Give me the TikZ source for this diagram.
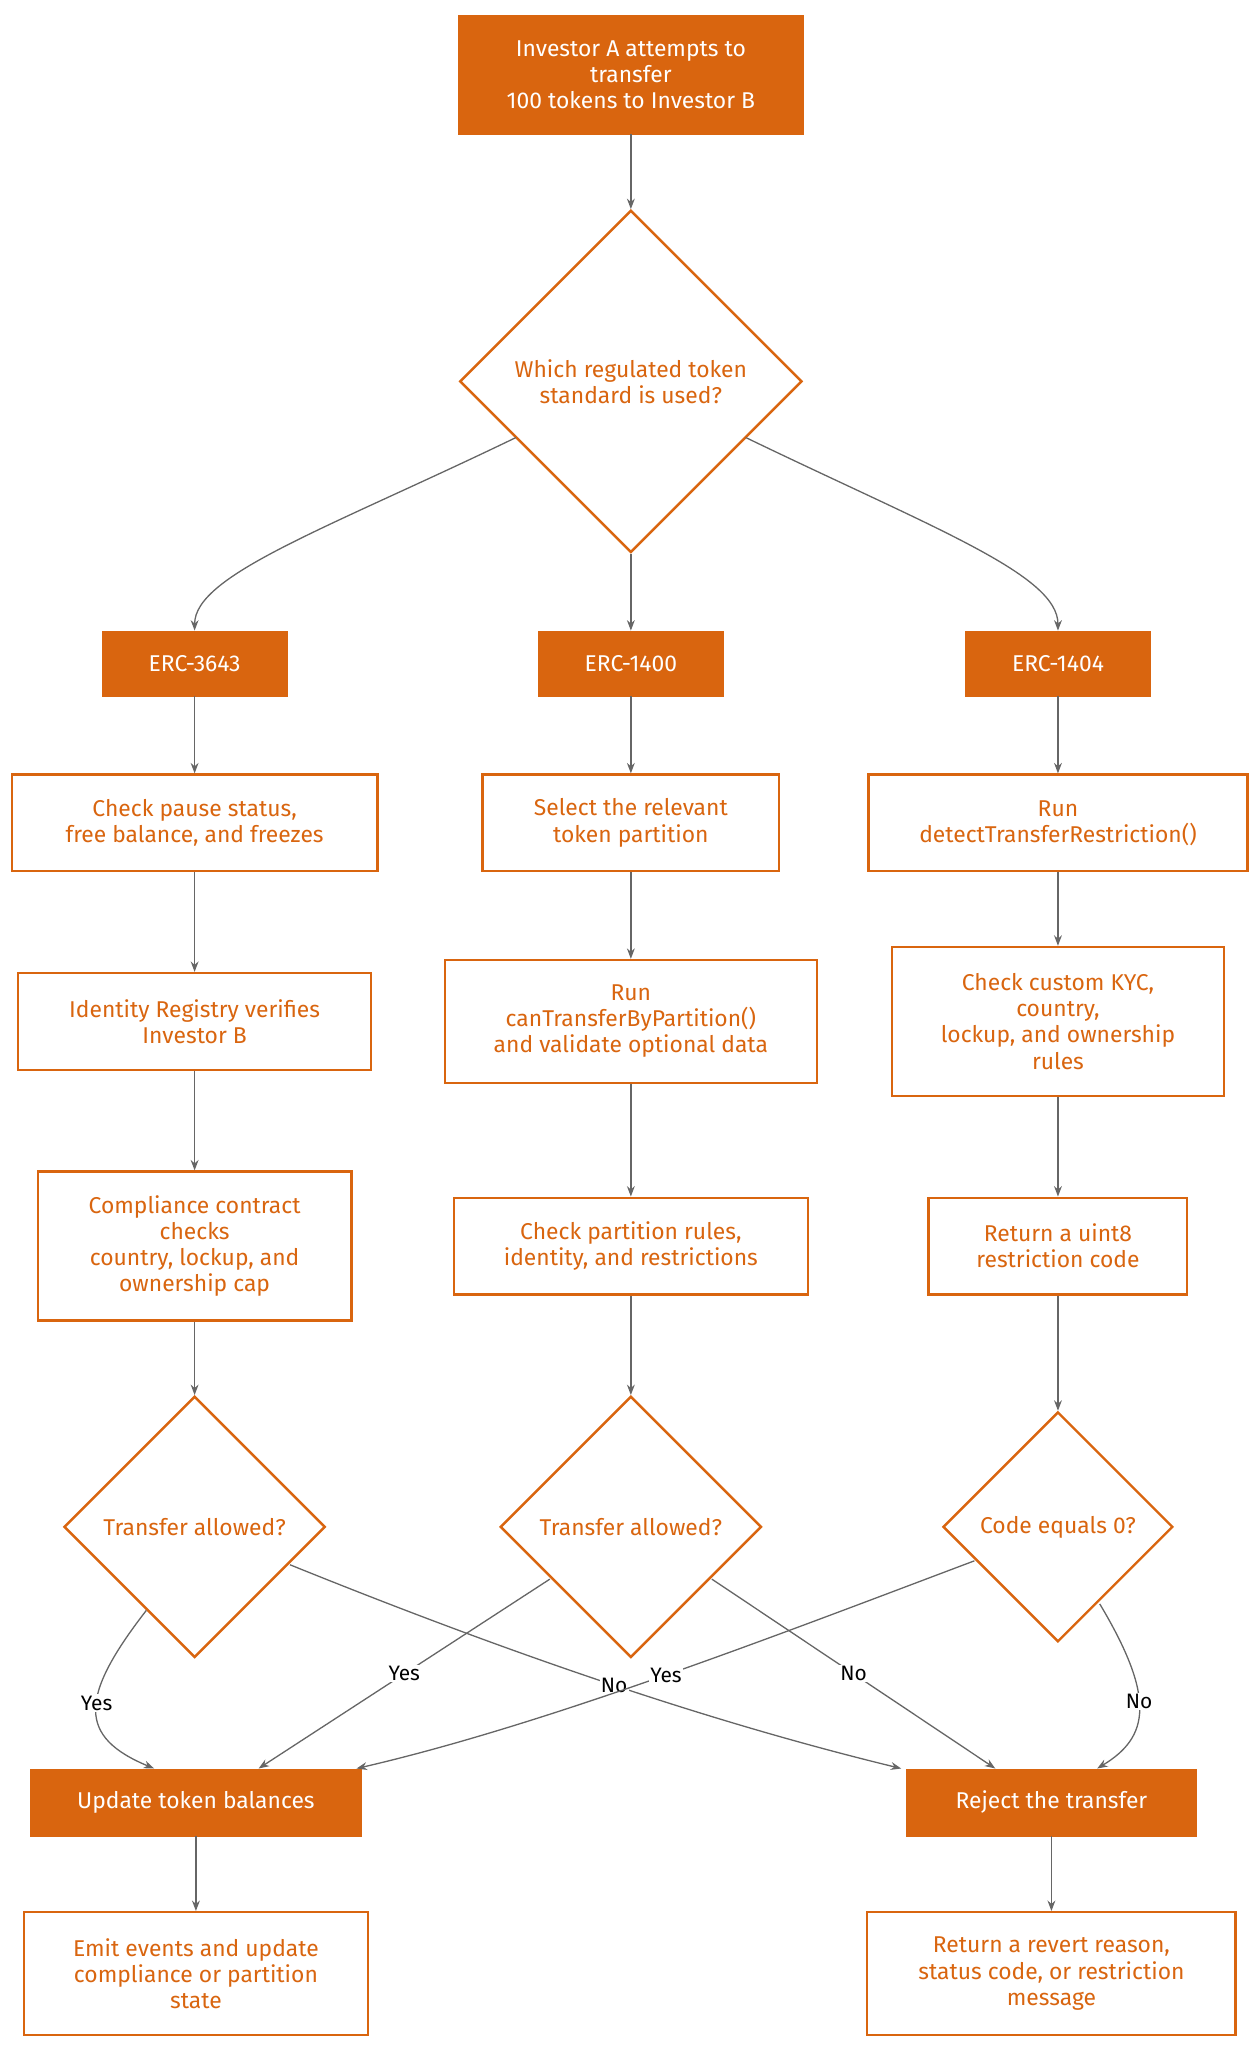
\documentclass[tikz,border=0pt]{standalone}
\usepackage{fontspec}
\setmainfont{Fira Sans}
\usetikzlibrary{shapes.geometric,arrows.meta}
\definecolor{org}{HTML}{D9650F}
\definecolor{edge}{HTML}{666666}
\begin{document}
\begin{tikzpicture}[x=1pt,y=-1pt,
  every node/.style={font=\fontsize{17.5}{20}\selectfont},
  fbox/.style={draw=org,fill=org,text=white,minimum width=#1,inner sep=0,align=center},
  obox/.style={draw=org,line width=1.8pt,fill=white,text=org,inner sep=0,align=center},
  dia/.style={diamond,draw=org,line width=1.8pt,fill=white,text=org,inner sep=0,aspect=1,align=center,minimum size=#1},
  ed/.style={draw=edge,line width=1pt,-{Stealth[length=8pt,width=6pt]}},
  lab/.style={fill=white,text=black,inner sep=1pt,font=\fontsize{16}{18}\selectfont}]
\useasboundingbox (0,0) rectangle (963,1568);
\node[fbox=264, minimum height=91] (s) at (483,57) {Investor A attempts to\\transfer\\100 tokens to Investor B};
\node[dia=262] (d1) at (483,292) {Which regulated token\\standard is used?};
\node[fbox=142, minimum height=50] (e1) at (149,508) {ERC-3643};
\node[fbox=142, minimum height=50] (e2) at (483,508) {ERC-1400};
\node[fbox=142, minimum height=50] (e3) at (810,508) {ERC-1404};
\node[obox,minimum width=280,minimum height=74] (a1) at (149,630) {Check pause status,\\free balance, and freezes};
\node[obox,minimum width=270,minimum height=74] (a2) at (149,782) {Identity Registry verifies\\Investor B};
\node[obox,minimum width=240,minimum height=114] (a3) at (149,954) {Compliance contract\\checks\\country, lockup, and\\ownership cap};
\node[dia=200] (a4) at (149,1169) {Transfer allowed?};
\node[obox,minimum width=227,minimum height=74] (b1) at (483,630) {Select the relevant\\token partition};
\node[obox,minimum width=285,minimum height=94] (b2) at (483,782) {Run\\canTransferByPartition()\\and validate optional data};
\node[obox,minimum width=271,minimum height=74] (b3) at (483,954) {Check partition rules,\\identity, and restrictions};
\node[dia=200] (b4) at (483,1169) {Transfer allowed?};
\node[obox,minimum width=290,minimum height=74] (c1) at (810,630) {Run\\detectTransferRestriction()};
\node[obox,minimum width=254,minimum height=114] (c2) at (810,782) {Check custom KYC,\\country,\\lockup, and ownership\\rules};
\node[obox,minimum width=198,minimum height=74] (c3) at (810,954) {Return a uint8\\restriction code};
\node[dia=176] (c4) at (810,1169) {Code equals 0?};
\node[fbox=253, minimum height=51] (u) at (150,1380) {Update token balances};
\node[fbox=222, minimum height=51] (r) at (805,1380) {Reject the transfer};
\node[obox,minimum width=263,minimum height=94] (u2) at (150,1511) {Emit events and update\\compliance or partition\\state};
\node[obox,minimum width=282,minimum height=94] (r2) at (805,1511) {Return a revert reason,\\status code, or restriction\\message};
\coordinate (d1l) at (395,335); \coordinate (d1r) at (571,335);
\draw[ed] (s) -- (d1);
\draw[ed] (d1l) .. controls (250,405) and (149,440) .. (e1.north);
\draw[ed] (d1) -- (e2);
\draw[ed] (d1r) .. controls (716,405) and (810,440) .. (e3.north);
\draw[ed] (e1) -- (a1); \draw[ed] (a1) -- (a2); \draw[ed] (a2) -- (a3); \draw[ed] (a3) -- (a4);
\draw[ed] (e2) -- (b1); \draw[ed] (b1) -- (b2); \draw[ed] (b2) -- (b3); \draw[ed] (b3) -- (b4);
\draw[ed] (e3) -- (c1); \draw[ed] (c1) -- (c2); \draw[ed] (c2) -- (c3); \draw[ed] (c3) -- (c4);
\coordinate (ua) at (118,1354); \coordinate (ub) at (198,1354); \coordinate (uc) at (273,1354);
\coordinate (ra) at (690,1354); \coordinate (rb) at (762,1354); \coordinate (rc) at (840,1354);
\coordinate (a4l) at (112,1233); \coordinate (a4r) at (222,1198);
\coordinate (b4l) at (421,1209); \coordinate (b4r) at (545,1209);
\coordinate (c4l) at (746,1195); \coordinate (c4r) at (842,1228);
\draw[ed] (a4l) .. controls (60,1300) and (60,1330) .. node[lab,pos=0.45]{Yes} (ua);
\draw[ed] (a4r) .. controls (400,1270) and (550,1320) .. node[lab,pos=0.5]{No} (ra);
\draw[ed] (b4l) -- node[lab,pos=0.5]{Yes} (ub);
\draw[ed] (b4r) -- node[lab,pos=0.5]{No} (rb);
\draw[ed] (c4l) .. controls (600,1250) and (420,1320) .. node[lab,pos=0.5]{Yes} (uc);
\draw[ed] (c4r) .. controls (885,1300) and (880,1330) .. node[lab,pos=0.45]{No} (rc);
\draw[ed] (u) -- (u2); \draw[ed] (r) -- (r2);
\end{tikzpicture}
\end{document}
